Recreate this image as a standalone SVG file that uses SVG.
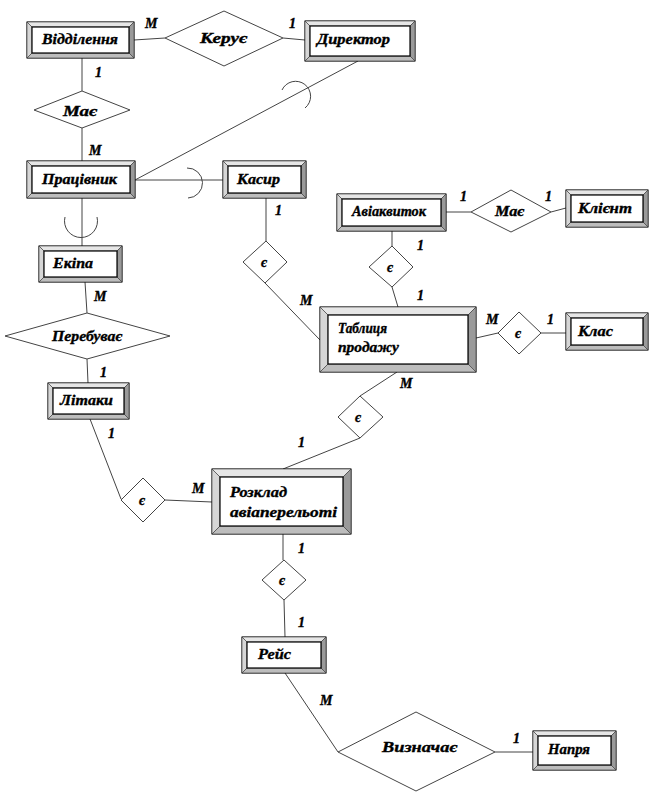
<svg xmlns="http://www.w3.org/2000/svg" width="651" height="806" viewBox="0 0 651 806">
<style>
.bg{fill:#fff}
.o{fill:#fff;stroke:#000;stroke-width:1}
.t{fill:#e6e6e6;stroke:#333;stroke-width:0.6}
.l{fill:#d6d6d6;stroke:#333;stroke-width:0.6}
.r{fill:#9a9a9a;stroke:#333;stroke-width:0.6}
.b{fill:#bdbdbd;stroke:#333;stroke-width:0.6}
.i{fill:#fff;stroke:#000;stroke-width:1.2}
.d{fill:#fff;stroke:#444;stroke-width:1}
.c{fill:none;stroke:#444;stroke-width:1}
text{font-family:"Liberation Serif","Times New Roman",serif;font-weight:bold;font-style:italic;fill:#000;stroke:#000;stroke-width:0.35}
.n{font-size:14px}
.m{font-size:14px}
</style>
<rect class="bg" x="0" y="0" width="651" height="806"/>
<g id="connectors">
<line class="c" x1="134" y1="40" x2="165" y2="38"/>
<line class="c" x1="283" y1="38" x2="305" y2="40"/>
<line class="c" x1="82" y1="58" x2="82" y2="91"/>
<line class="c" x1="82" y1="128" x2="82" y2="161"/>
<line class="c" x1="358" y1="61" x2="135" y2="180"/>
<path class="c" d="M282 90 A15 15 0 1 1 305 108"/>
<line class="c" x1="135" y1="180" x2="223" y2="180"/>
<path class="c" d="M187 168 A15 15 0 1 1 188 198"/>
<line class="c" x1="82" y1="198" x2="82" y2="246"/>
<path class="c" d="M65 217 A16.5 16.5 0 1 0 97 217"/>
<line class="c" x1="85" y1="282" x2="87" y2="313"/>
<line class="c" x1="87" y1="359" x2="88" y2="383"/>
<line class="c" x1="90" y1="419" x2="121" y2="499"/>
<line class="c" x1="165" y1="500" x2="212" y2="502"/>
<line class="c" x1="283" y1="469" x2="360" y2="438"/>
<line class="c" x1="360" y1="396" x2="397" y2="372"/>
<line class="c" x1="266" y1="198" x2="266" y2="241"/>
<line class="c" x1="265" y1="283" x2="320" y2="340"/>
<line class="c" x1="392" y1="231" x2="392" y2="246"/>
<line class="c" x1="392" y1="287" x2="398" y2="307"/>
<line class="c" x1="446" y1="212" x2="471" y2="212"/>
<line class="c" x1="551" y1="212" x2="566" y2="208"/>
<line class="c" x1="476" y1="338" x2="498" y2="333"/>
<line class="c" x1="541" y1="333" x2="566" y2="333"/>
<line class="c" x1="283" y1="534" x2="283" y2="560"/>
<line class="c" x1="284" y1="600" x2="285" y2="637"/>
<line class="c" x1="285" y1="673" x2="338" y2="752"/>
<line class="c" x1="495" y1="752" x2="533" y2="752"/>
</g>
<g id="labels">
<text class="m" x="145" y="28">M</text>
<text class="m" x="289" y="28">1</text>
<text class="m" x="95" y="77">1</text>
<text class="m" x="89" y="155">M</text>
<text class="m" x="275" y="215">1</text>
<text class="m" x="94" y="301">M</text>
<text class="m" x="100" y="377">1</text>
<text class="m" x="108" y="438">1</text>
<text class="m" x="300" y="305">M</text>
<text class="m" x="417" y="250">1</text>
<text class="m" x="417" y="300">1</text>
<text class="m" x="460" y="201">1</text>
<text class="m" x="545" y="201">1</text>
<text class="m" x="486" y="324">M</text>
<text class="m" x="547" y="324">1</text>
<text class="m" x="400" y="388">M</text>
<text class="m" x="298" y="447">1</text>
<text class="m" x="192" y="493">M</text>
<text class="m" x="298" y="553">1</text>
<text class="m" x="298" y="627">1</text>
<text class="m" x="320" y="705">M</text>
<text class="m" x="513" y="743">1</text>
</g>
<g id="rel-keruie"><polygon class="d" points="165,38 224,11 283,38 224,66"/><text class="n" x="200" y="43" textLength="47" lengthAdjust="spacingAndGlyphs">Керує</text></g>
<g id="rel-maie1"><polygon class="d" points="34,110 82,91 130,110 82,128"/><text class="n" x="63" y="116" textLength="34" lengthAdjust="spacingAndGlyphs">Має</text></g>
<g id="rel-ie1"><polygon class="d" points="243,262 266,241 287,262 265,283"/><text class="n" x="261" y="267">є</text></g>
<g id="rel-perebuvaie"><polygon class="d" points="5,336 87,313 170,336 87,359"/><text class="n" x="52" y="341" textLength="70" lengthAdjust="spacingAndGlyphs">Перебуває</text></g>
<g id="rel-ie2"><polygon class="d" points="121,500 143,478 165,500 143,522"/><text class="n" x="139" y="505">є</text></g>
<g id="rel-ie3"><polygon class="d" points="338,417 360,396 383,417 360,438"/><text class="n" x="355" y="422">є</text></g>
<g id="rel-ie4"><polygon class="d" points="369,267 392,246 413,267 392,287"/><text class="n" x="387" y="272">є</text></g>
<g id="rel-maie2"><polygon class="d" points="471,212 511,190 551,212 511,232"/><text class="n" x="495" y="216" textLength="29" lengthAdjust="spacingAndGlyphs">Має</text></g>
<g id="rel-ie5"><polygon class="d" points="498,333 519,312 541,333 519,354"/><text class="n" x="515" y="338">є</text></g>
<g id="rel-ie6"><polygon class="d" points="262,580 284,560 306,580 284,600"/><text class="n" x="279" y="585">є</text></g>
<g id="rel-vyznachaie"><polygon class="d" points="338,752 416,712 495,752 416,791"/><text class="n" x="382" y="752" textLength="75" lengthAdjust="spacingAndGlyphs">Визначає</text></g>

<g id="viddilennia">
<rect class="o" x="27" y="22" width="107" height="36"/>
<polygon class="t" points="27,22 134,22 129,27 32,27"/><polygon class="l" points="27,22 32,27 32,53 27,58"/><polygon class="r" points="134,22 134,58 129,53 129,27"/><polygon class="b" points="27,58 134,58 129,53 32,53"/>
<rect class="i" x="32" y="27" width="97" height="26"/>
<text class="n" x="42" y="44" textLength="76" lengthAdjust="spacingAndGlyphs">Відділення</text></g>

<g id="dyrektor">
<rect class="o" x="305" y="21" width="110" height="40"/>
<polygon class="t" points="305,21 415,21 410,26 310,26"/><polygon class="l" points="305,21 310,26 310,56 305,61"/><polygon class="r" points="415,21 415,61 410,56 410,26"/><polygon class="b" points="305,61 415,61 410,56 310,56"/>
<rect class="i" x="310" y="26" width="100" height="30"/>
<text class="n" x="317" y="44" textLength="73" lengthAdjust="spacingAndGlyphs">Директор</text></g>

<g id="pratsivnyk">
<rect class="o" x="27" y="161" width="108" height="37"/>
<polygon class="t" points="27,161 135,161 130,166 32,166"/><polygon class="l" points="27,161 32,166 32,193 27,198"/><polygon class="r" points="135,161 135,198 130,193 130,166"/><polygon class="b" points="27,198 135,198 130,193 32,193"/>
<rect class="i" x="32" y="166" width="98" height="27"/>
<text class="n" x="42" y="184" textLength="75" lengthAdjust="spacingAndGlyphs">Працівник</text></g>

<g id="kasyr">
<rect class="o" x="223" y="161" width="83" height="37"/>
<polygon class="t" points="223,161 306,161 301,166 228,166"/><polygon class="l" points="223,161 228,166 228,193 223,198"/><polygon class="r" points="306,161 306,198 301,193 301,166"/><polygon class="b" points="223,198 306,198 301,193 228,193"/>
<rect class="i" x="228" y="166" width="73" height="27"/>
<text class="n" x="237" y="184" textLength="43" lengthAdjust="spacingAndGlyphs">Касир</text></g>

<g id="ekipa">
<rect class="o" x="39" y="246" width="83" height="36"/>
<polygon class="t" points="39,246 122,246 117,251 44,251"/><polygon class="l" points="39,246 44,251 44,277 39,282"/><polygon class="r" points="122,246 122,282 117,277 117,251"/><polygon class="b" points="39,282 122,282 117,277 44,277"/>
<rect class="i" x="44" y="251" width="73" height="26"/>
<text class="n" x="53" y="268" textLength="40" lengthAdjust="spacingAndGlyphs">Екіпа</text></g>

<g id="litaky">
<rect class="o" x="48" y="383" width="81" height="36"/>
<polygon class="t" points="48,383 129,383 124,388 53,388"/><polygon class="l" points="48,383 53,388 53,414 48,419"/><polygon class="r" points="129,383 129,419 124,414 124,388"/><polygon class="b" points="48,419 129,419 124,414 53,414"/>
<rect class="i" x="53" y="388" width="71" height="26"/>
<text class="n" x="60" y="405" textLength="53" lengthAdjust="spacingAndGlyphs">Літаки</text></g>

<g id="aviakvytok">
<rect class="o" x="337" y="194" width="109" height="37"/>
<polygon class="t" points="337,194 446,194 441,199 342,199"/><polygon class="l" points="337,194 342,199 342,226 337,231"/><polygon class="r" points="446,194 446,231 441,226 441,199"/><polygon class="b" points="337,231 446,231 441,226 342,226"/>
<rect class="i" x="342" y="199" width="99" height="27"/>
<text class="n" x="352" y="216" textLength="74" lengthAdjust="spacingAndGlyphs">Авіаквиток</text></g>

<g id="kliient">
<rect class="o" x="566" y="190" width="82" height="37"/>
<polygon class="t" points="566,190 648,190 643,195 571,195"/><polygon class="l" points="566,190 571,195 571,222 566,227"/><polygon class="r" points="648,190 648,227 643,222 643,195"/><polygon class="b" points="566,227 648,227 643,222 571,222"/>
<rect class="i" x="571" y="195" width="72" height="27"/>
<text class="n" x="578" y="213" textLength="54" lengthAdjust="spacingAndGlyphs">Клієнт</text></g>

<g id="tablytsia">
<rect class="o" x="320" y="307" width="156" height="65"/>
<polygon class="t" points="320,307 476,307 468,315 328,315"/><polygon class="l" points="320,307 328,315 328,364 320,372"/><polygon class="r" points="476,307 476,372 468,364 468,315"/><polygon class="b" points="320,372 476,372 468,364 328,364"/>
<rect class="i" x="328" y="315" width="140" height="49"/>
<text class="n" x="338" y="333" textLength="49" lengthAdjust="spacingAndGlyphs">Таблиця</text>
<text class="n" x="338" y="352" textLength="61" lengthAdjust="spacingAndGlyphs">продажу</text></g>

<g id="klas">
<rect class="o" x="566" y="313" width="82" height="37"/>
<polygon class="t" points="566,313 648,313 643,318 571,318"/><polygon class="l" points="566,313 571,318 571,345 566,350"/><polygon class="r" points="648,313 648,350 643,345 643,318"/><polygon class="b" points="566,350 648,350 643,345 571,345"/>
<rect class="i" x="571" y="318" width="72" height="27"/>
<text class="n" x="578" y="336" textLength="35" lengthAdjust="spacingAndGlyphs">Клас</text></g>

<g id="rozklad">
<rect class="o" x="212" y="469" width="139" height="65"/>
<polygon class="t" points="212,469 351,469 343,477 220,477"/><polygon class="l" points="212,469 220,477 220,526 212,534"/><polygon class="r" points="351,469 351,534 343,526 343,477"/><polygon class="b" points="212,534 351,534 343,526 220,526"/>
<rect class="i" x="220" y="477" width="123" height="49"/>
<text class="n" x="230" y="497" textLength="57" lengthAdjust="spacingAndGlyphs">Розклад</text>
<text class="n" x="230" y="517" textLength="107" lengthAdjust="spacingAndGlyphs">авіаперельоті</text></g>

<g id="reis">
<rect class="o" x="242" y="637" width="84" height="36"/>
<polygon class="t" points="242,637 326,637 321,642 247,642"/><polygon class="l" points="242,637 247,642 247,668 242,673"/><polygon class="r" points="326,637 326,673 321,668 321,642"/><polygon class="b" points="242,673 326,673 321,668 247,668"/>
<rect class="i" x="247" y="642" width="74" height="26"/>
<text class="n" x="258" y="659" textLength="33" lengthAdjust="spacingAndGlyphs">Рейс</text></g>

<g id="napria">
<rect class="o" x="533" y="731" width="83" height="39"/>
<polygon class="t" points="533,731 616,731 611,736 538,736"/><polygon class="l" points="533,731 538,736 538,765 533,770"/><polygon class="r" points="616,731 616,770 611,765 611,736"/><polygon class="b" points="533,770 616,770 611,765 538,765"/>
<rect class="i" x="538" y="736" width="73" height="29"/>
<text class="n" x="548" y="754" textLength="42" lengthAdjust="spacingAndGlyphs">Напря</text></g>
</svg>
